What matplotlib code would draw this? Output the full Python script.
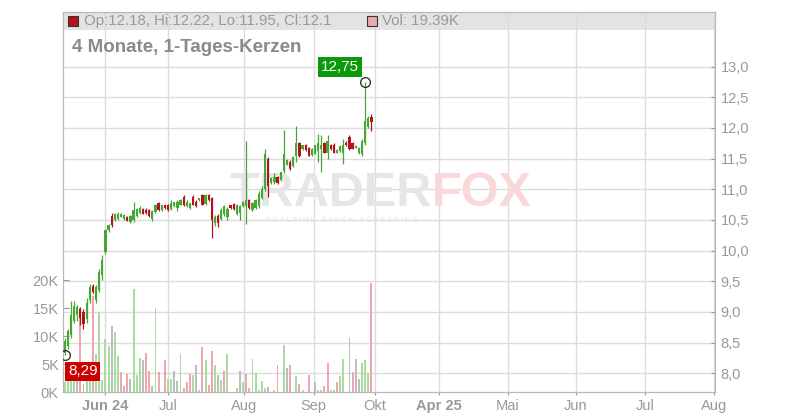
import numpy as np
import matplotlib
matplotlib.use("Agg")
import matplotlib.pyplot as plt
from matplotlib.patches import Rectangle

plt.rcParams['font.family'] = ['Liberation Sans', 'DejaVu Sans']

# Daily candles, oldest first
opens = [8.33, 8.45, 8.62, 8.85, 8.95, 9.05, 9.00, 8.88, 9.20, 9.42,
         9.20, 9.36, 9.60, 9.97, 10.33, 10.56, 10.50, 10.52, 10.55, 10.52,
         10.55, 10.46, 10.50, 10.56, 10.62, 10.68, 10.67, 10.66, 10.52, 10.63,
         10.78, 10.66, 10.74, 10.74, 10.68, 10.72, 10.70, 10.75, 10.88, 10.73,
         10.70, 10.88, 10.80, 10.82, 10.90, 10.76, 10.90, 10.86, 10.45, 10.57,
         10.52, 10.60, 10.55, 10.74, 10.76, 10.60, 10.62, 10.72, 10.72, 10.82,
         10.66, 10.70, 10.72, 10.85, 11.00, 11.50, 11.10, 11.12, 11.20, 11.15,
         11.30, 11.40, 11.45, 11.38, 11.55, 11.75, 11.65, 11.72, 11.67, 11.56,
         11.58, 11.62, 11.65, 11.75, 11.60, 11.72, 11.73, 11.60, 11.62, 11.60,
         11.76, 11.85, 11.75, 11.68, 11.60, 11.58, 11.75, 12.02, 12.18]
highs = [8.58, 8.72, 9.17, 9.17, 9.12, 9.08, 9.05, 9.22, 9.45, 9.45,
         9.44, 9.70, 9.92, 10.36, 10.43, 10.61, 10.62, 10.63, 10.62, 10.60,
         10.57, 10.58, 10.80, 10.70, 10.72, 10.70, 10.69, 10.68, 10.66, 10.76,
         10.80, 10.75, 10.76, 10.76, 10.82, 10.80, 10.83, 10.84, 10.90, 10.83,
         10.78, 10.90, 10.82, 10.86, 10.92, 10.92, 10.92, 10.88, 10.58, 10.60,
         10.69, 10.74, 10.71, 10.75, 10.77, 10.76, 10.74, 10.81, 11.78, 10.84,
         10.80, 10.84, 10.97, 11.05, 11.65, 11.52, 11.20, 11.26, 11.22, 11.29,
         11.97, 11.50, 11.47, 11.55, 12.03, 11.77, 11.73, 11.74, 11.69, 11.67,
         11.73, 11.90, 11.88, 11.77, 11.88, 11.74, 11.75, 11.65, 11.71, 11.82,
         11.78, 11.88, 11.77, 11.72, 11.69, 11.82, 12.75, 12.20, 12.22]
lows = [8.29, 8.40, 8.58, 8.82, 8.85, 8.78, 8.72, 8.82, 9.15, 9.30,
        9.15, 9.33, 9.52, 9.95, 10.31, 10.38, 10.48, 10.50, 10.54, 10.50,
        10.48, 10.45, 10.47, 10.55, 10.60, 10.59, 10.60, 10.55, 10.49, 10.62,
        10.65, 10.65, 10.68, 10.65, 10.66, 10.71, 10.65, 10.74, 10.72, 10.71,
        10.68, 10.74, 10.71, 10.81, 10.74, 10.74, 10.81, 10.20, 10.40, 10.38,
        10.50, 10.56, 10.50, 10.68, 10.67, 10.58, 10.50, 10.71, 10.43, 10.68,
        10.64, 10.68, 10.70, 10.84, 10.98, 10.88, 11.09, 11.08, 11.09, 11.14,
        11.26, 11.39, 11.32, 11.36, 11.45, 11.53, 11.64, 11.63, 11.54, 11.55,
        11.57, 11.45, 11.28, 11.59, 11.50, 11.64, 11.59, 11.59, 11.61, 11.41,
        11.71, 11.64, 11.65, 11.67, 11.58, 11.55, 11.72, 12.00, 11.95]
closes = [8.52, 8.68, 8.95, 9.10, 9.08, 8.90, 8.80, 9.15, 9.40, 9.32,
          9.40, 9.65, 9.85, 10.33, 10.41, 10.42, 10.60, 10.60, 10.60, 10.58,
          10.49, 10.57, 10.66, 10.68, 10.70, 10.60, 10.61, 10.56, 10.64, 10.74,
          10.67, 10.74, 10.69, 10.66, 10.78, 10.79, 10.80, 10.82, 10.75, 10.80,
          10.77, 10.75, 10.72, 10.85, 10.75, 10.90, 10.82, 10.50, 10.55, 10.45,
          10.66, 10.72, 10.68, 10.69, 10.68, 10.75, 10.72, 10.80, 10.82, 10.70,
          10.78, 10.83, 10.92, 11.00, 11.58, 11.05, 11.18, 11.20, 11.10, 11.28,
          11.58, 11.48, 11.33, 11.52, 11.75, 11.55, 11.72, 11.64, 11.55, 11.66,
          11.72, 11.75, 11.72, 11.60, 11.78, 11.65, 11.60, 11.64, 11.70, 11.72,
          11.72, 11.65, 11.66, 11.71, 11.68, 11.78, 12.12, 12.17, 12.10]
# volume in thousands, and its colour direction (1 up, -1 down, 0 unchanged)
volumes_k = [1.8, 2.5, 3.0, 2.5, 3.0, 15.0, 1.5, 2.0, 2.1, 17.2,
             6.8, 14.3, 2.1, 9.5, 8.3, 11.8, 10.7, 6.5, 3.6, 1.0,
             3.3, 2.3, 18.4, 3.1, 6.1, 5.8, 7.0, 3.7, 1.0, 15.0,
             3.6, 0.0, 5.7, 2.3, 2.3, 3.8, 2.0, 6.8, 0.7, 1.8,
             3.3, 3.1, 4.8, 0.3, 8.0, 5.7, 1.2, 7.3, 4.9, 3.0,
             2.1, 3.8, 6.8, 0.0, 0.0, 0.7, 3.8, 1.8, 3.2, 0.7,
             5.9, 3.4, 0.4, 2.0, 0.8, 0.9, 0.0, 0.4, 4.8, 0.0,
             8.4, 4.3, 4.8, 0.0, 2.9, 1.4, 0.4, 0.0, 3.0, 0.0,
             1.8, 0.4, 0.4, 1.1, 5.2, 0.4, 0.3, 1.8, 2.9, 5.9,
             0.0, 9.6, 3.6, 5.9, 2.3, 5.2, 5.7, 3.4, 19.39]
vol_dir = [1, 1, 1, 1, 0, -1, -1, 1, 1, -1,
           1, 1, 1, 1, 1, 0, 1, 1, -1, 0,
           -1, 0, 1, 1, 1, 0, -1, -1, 0, 1,
           -1, 0, -1, 1, 1, 0, 0, 1, 0, -1,
           -1, 1, 0, 1, -1, 1, -1, -1, 1, 0,
           1, -1, 1, 0, 0, 1, 0, 1, -1, -1,
           1, 1, 1, 1, 1, -1, 0, 1, -1, 0,
           1, 0, -1, 0, 1, -1, 1, 0, -1, 0,
           0, 1, 1, -1, -1, 1, 1, -1, 1, 1,
           0, 0, -1, 0, 0, 1, 1, 1, -1]

price_ticks = np.arange(8.0, 13.01, 0.5)
vol_ticks = [0, 5, 10, 15, 20]
month_labels = ['Jun 24', 'Jul', 'Aug', 'Sep', 'Okt', 'Apr 25', 'Mai', 'Jun', 'Jul', 'Aug']
month_pos = [13.0, 33.1, 57.4, 79.6, 99.2, 119.5, 141.5, 163.4, 185.4, 207.6]

GRID = '#dcdcdc'
TXT = '#999999'
C_UP, C_DN = '#45a834', '#b5121b'
V_UP, V_DN, V_EQ = '#a9dca1', '#f0a6ae', '#bdbdbd'

W, H = 800, 420
fig = plt.figure(figsize=(8, 4.2), dpi=100)
ax_v = fig.add_axes([63 / W, 28 / H, (715 - 63) / W, (392 - 12) / H])
ax = ax_v.twinx()
ax.set_zorder(ax_v.get_zorder() + 1)
ax.patch.set_visible(False)

x = np.arange(len(closes))
o, h, l, c = map(np.array, (opens, highs, lows, closes))

ax_v.set_xlim(-0.55, 207.8)
ax.set_ylim(7.693, 13.892)
ax_v.set_ylim(0, 67.86)

# header band and grid (on the lower axes)
ax_v.add_patch(Rectangle((0, 362 / 380), 1, 18 / 380, transform=ax_v.transAxes,
                         facecolor='#e3e3e3', edgecolor='none', zorder=0.1))
for p in price_ticks:
    ax_v.plot([0, 1], [p, p], transform=ax.get_yaxis_transform(),
              color=GRID, lw=1, zorder=0.5)
for m in month_pos:
    ax_v.axvline(m, color=GRID, lw=1, zorder=0.5)

# volume bars
vcol = [V_UP if d > 0 else V_DN if d < 0 else V_EQ for d in vol_dir]
ax_v.bar(x, volumes_k, width=0.62, color=vcol, zorder=1)

# candles
up = c >= o
ccol = np.where(up, C_UP, C_DN)
ax.vlines(x, l, h, colors=ccol, lw=0.9, zorder=2)
body = np.maximum(np.abs(c - o), 0.012)
ax.bar(x, body, bottom=np.minimum(o, c), width=0.72, color=ccol, zorder=3)

# watermark
ax_v.text(432 / W, 1 - 194 / H, 'TRADER', transform=fig.transFigure, ha='right', va='center',
          fontsize=35, fontweight='bold', color='#e6e6e6', zorder=0.6)
ax_v.text(432 / W, 1 - 194 / H, 'FOX', transform=fig.transFigure, ha='left', va='center',
          fontsize=35, fontweight='bold', color='#f8d8d8', zorder=0.6)
ax_v.text(342 / W, 1 - 221 / H, 'R E A L T I M E   S T O C K   S C R E E N I N G',
          transform=fig.transFigure, ha='center', va='center', fontsize=5,
          fontweight='bold', color='#e8e8e8', zorder=0.6)

# high / low markers
ih, il = int(np.argmax(h)), int(np.argmin(l))
for xi, yi in ((ih, h[ih]), (il, l[il])):
    ax.plot(xi, yi, 'o', mfc='none', mec='#222222', mew=0.9, ms=7, zorder=5)
ax.annotate(f"{h[ih]:.2f}".replace('.', ','), xy=(ih, h[ih]), xytext=(-25, 15),
            textcoords='offset pixels', ha='center', va='center', color='white', fontsize=11,
            bbox=dict(boxstyle='square,pad=0.18', fc='#0a9a0a', ec='none'), zorder=6)
ax.annotate(f"{l[il]:.2f}".replace('.', ','), xy=(il, l[il]), xytext=(18, -16),
            textcoords='offset pixels', ha='center', va='center', color='white', fontsize=11,
            bbox=dict(boxstyle='square,pad=0.18', fc='#cc0000', ec='none'), zorder=6)

# axes styling
for a in (ax, ax_v):
    for s in a.spines.values():
        s.set_color('#b8b8b8')
ax.set_yticks(price_ticks)
ax.set_yticklabels([f"{p:.1f}".replace('.', ',') for p in price_ticks])
ax.tick_params(axis='y', direction='in', length=3, color='#999999', labelcolor=TXT,
               labelsize=10.5, pad=4)
ax_v.set_yticks(vol_ticks)
ax_v.set_yticklabels([f"{v}K" for v in vol_ticks])
ax_v.tick_params(axis='y', direction='in', length=4, color='#999999', labelcolor=TXT,
                 labelsize=10.5, pad=3)
ax_v.set_xticks(month_pos)
ax_v.set_xticklabels(month_labels)
ax_v.tick_params(axis='x', direction='out', length=2, color='#999999', labelcolor=TXT,
                 labelsize=10.5, pad=3)
for t in ax_v.get_xticklabels():
    if ' ' in t.get_text():
        t.set_fontweight('bold')

# header texts
fig.patches.append(Rectangle((68 / W, 1 - 26 / H), 10 / W, 10 / H, transform=fig.transFigure,
                             facecolor='#b5121b', edgecolor='#333333', lw=0.8, figure=fig))
fig.text(84 / W, 1 - 21 / H, f"Op:{opens[-1]}, Hi:{highs[-1]}, Lo:{lows[-1]}, Cl:{closes[-1]}",
         ha='left', va='center', fontsize=10.8, color=TXT)
fig.patches.append(Rectangle((367 / W, 1 - 26 / H), 10 / W, 10 / H, transform=fig.transFigure,
                             facecolor='#f0a6ae', edgecolor='#333333', lw=0.8, figure=fig))
fig.text(382 / W, 1 - 21 / H, f"Vol: {volumes_k[-1]}K", ha='left', va='center',
         fontsize=10.8, color=TXT)
fig.text(72 / W, 1 - 47 / H, "4 Monate, 1-Tages-Kerzen", ha='left', va='center',
         fontsize=13.5, fontweight='bold', color='#8a8a8a')

fig.savefig('out.png', dpi=100)
